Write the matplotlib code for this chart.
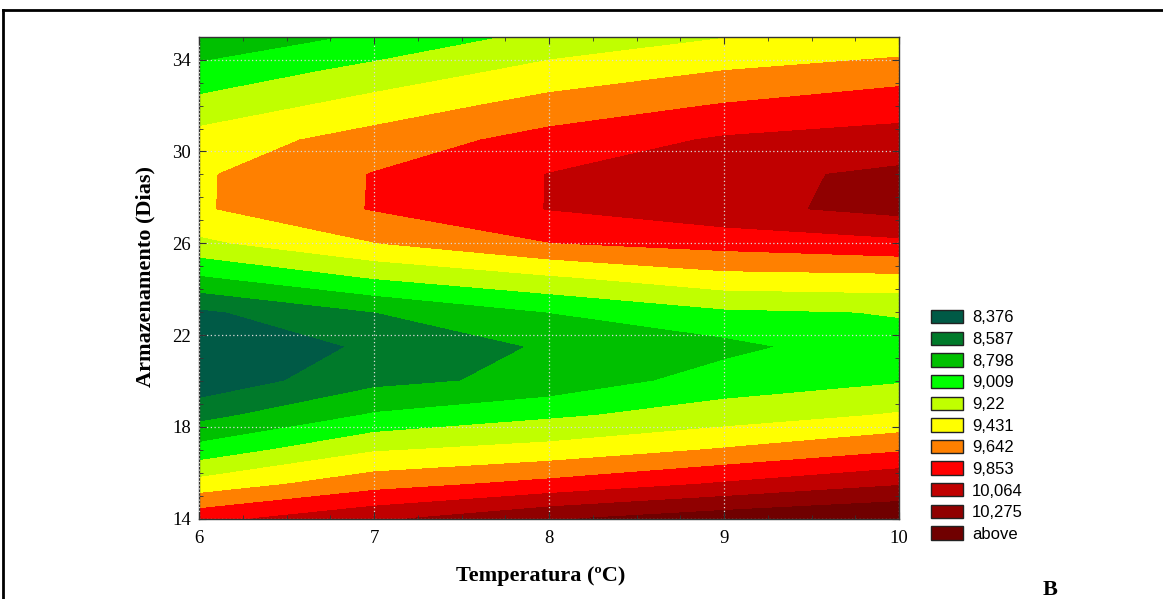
import numpy as np
import matplotlib.pyplot as plt
from matplotlib.patches import Patch
from matplotlib.lines import Line2D
from matplotlib.ticker import MultipleLocator

# grid: temperature columns, storage-day rows
temperatura = [6, 7, 8, 9, 10]
dias = [14, 15.5, 17, 18.5, 20, 21.5, 23, 24.5, 26, 27.5, 29, 30.5, 32, 33.5, 35]

z_6 = [9.78, 9.304, 8.874, 8.519, 8.228, 8.145, 8.336, 8.769, 9.171, 9.406, 9.404, 9.31, 9.079, 8.856, 8.63]
z_7 = [10.02, 9.56, 9.20, 8.822, 8.53, 8.42, 8.585, 9.02, 9.423, 9.655, 9.652, 9.52, 9.306, 9.077, 8.83]
z_8 = [10.25, 9.707, 9.294, 8.974, 8.645, 8.612, 8.80, 9.189, 9.635, 9.859, 9.858, 9.72, 9.515, 9.291, 9.07]
z_9 = [10.40, 9.879, 9.45, 9.105, 8.90, 8.733, 8.974, 9.358, 9.718, 10.003, 10.0, 9.88, 9.657, 9.434, 9.21]
z_10 = [10.50, 10.048, 9.616, 9.243, 8.99, 8.95, 9.02, 9.378, 9.80, 10.13, 10.11, 9.93, 9.77, 9.537, 9.277]

niveis = [8.376, 8.587, 8.798, 9.009, 9.22, 9.431, 9.642, 9.853, 10.064, 10.275]
rotulos = ['8,376', '8,587', '8,798', '9,009', '9,22', '9,431', '9,642', '9,853', '10,064', '10,275', 'above']
cores = ['#005a46', '#007a2a', '#00c000', '#00ff00', '#c0ff00', '#ffff00',
         '#ff8000', '#ff0000', '#c00000', '#900000', '#700000']

plt.rcParams['font.family'] = 'Liberation Serif'

W, H = 1163, 599
fig = plt.figure(figsize=(W / 100, H / 100), dpi=100)
ax = fig.add_axes([199 / W, 1 - 518.7 / H, 700 / W, 482 / H])

X, Y = np.meshgrid(temperatura, dias)
Z = np.column_stack([z_6, z_7, z_8, z_9, z_10])
ax.contourf(X, Y, Z, levels=[7.0] + niveis + [12.0], colors=cores)

ax.set_xlim(6, 10)
ax.set_ylim(14, 35)
ax.xaxis.set_major_locator(MultipleLocator(1))
ax.xaxis.set_minor_locator(MultipleLocator(0.25))
ax.yaxis.set_minor_locator(MultipleLocator(1))
ax.set_yticks([14, 18, 22, 26, 30, 34])
ax.tick_params(which='both', direction='in', top=True, right=True, color='#333333', labelsize=13.5)
ax.tick_params(which='major', length=5)
ax.tick_params(which='minor', length=3)
ax.tick_params(axis='x', pad=8)
ax.tick_params(axis='y', pad=6)
for s in ax.spines.values():
  s.set_color('#333333')
  s.set_linewidth(1)

ax.set_axisbelow(False)
ax.grid(True, which='major', color='#d8d8d8', linestyle=(0, (1, 2)), linewidth=0.9)

fig.text(541 / W, 1 - 576 / H, 'Temperatura (ºC)', ha='center', va='center',
         fontweight='bold', fontsize=16)
fig.text(145 / W, 1 - 277 / H, 'Armazenamento (Dias)', ha='center', va='center', rotation=90,
         fontweight='bold', fontsize=16)
fig.text(1050 / W, 1 - 590 / H, 'B', ha='center', va='center', fontweight='bold', fontsize=16)

handles = [Patch(facecolor=c, edgecolor='#222222', linewidth=1) for c in cores]
fig.legend(handles, rotulos, loc='upper left', bbox_to_anchor=(931 / W, 1 - 310 / H),
           frameon=False, borderpad=0, borderaxespad=0, handlelength=1.9, handleheight=0.86,
           labelspacing=0.37, handletextpad=0.55, prop={'family': 'Liberation Sans', 'size': 12})

# page frame
fig.add_artist(Line2D([3 / W, 3 / W], [0, 1 - 10 / H], transform=fig.transFigure, color='black', lw=2))
fig.add_artist(Line2D([3 / W, 1], [1 - 10 / H, 1 - 10 / H], transform=fig.transFigure, color='black', lw=2))

fig.savefig('out.png', dpi=100)
